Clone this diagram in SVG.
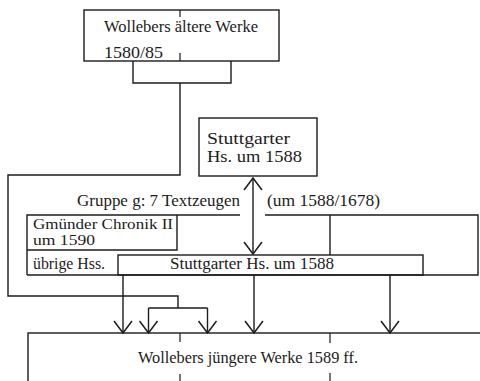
<svg xmlns="http://www.w3.org/2000/svg" width="480" height="381" viewBox="0 0 480 381">
<style>
.b{fill:none;stroke:#1c1c1c;stroke-width:1.4}
.c{fill:none;stroke:#1c1c1c;stroke-width:1.4}
.t{font-family:"Liberation Serif","Times New Roman",serif;font-size:16px;fill:#1c1c1c}
.s{font-size:14px}
.k{fill:none;stroke:#1c1c1c;stroke-width:1.2}
</style>
<defs>
<marker id="ah" markerUnits="userSpaceOnUse" markerWidth="16" markerHeight="22" viewBox="-14 -11 16 22" refX="0" refY="0" orient="auto-start-reverse" overflow="visible">
<path d="M-12,-9 L0,0 L-12,9" fill="none" stroke="#1c1c1c" stroke-width="1.5"/>
</marker>
</defs>
<rect width="480" height="381" fill="#ffffff"/>
<g id="n-aeltere">
<rect class="b" x="84" y="10" width="195" height="51"/>
<path class="k" d="M180,10 V17 M180,53 V61"/>
<text class="t" x="104" y="32" textLength="154" lengthAdjust="spacingAndGlyphs">Wollebers ältere Werke</text>
<text class="t" x="104" y="58" textLength="59" lengthAdjust="spacingAndGlyphs">1580/85</text>
</g>
<g id="n-stuttgarter-top">
<rect class="b" x="199" y="118" width="118" height="58"/>
<text class="t" x="207" y="144" textLength="83" lengthAdjust="spacingAndGlyphs">Stuttgarter</text>
<text class="t" x="207" y="162" textLength="95" lengthAdjust="spacingAndGlyphs">Hs. um 1588</text>
</g>
<g id="n-gruppe">
<path class="b" d="M27,275 V215 H240 M265,215 H478 V275 H27"/>
<text class="t" x="77" y="206" textLength="163" lengthAdjust="spacingAndGlyphs">Gruppe g: 7 Textzeugen</text>
<text class="t" x="267" y="206" textLength="113" lengthAdjust="spacingAndGlyphs">(um 1588/1678)</text>
</g>
<g id="n-gmuender">
<path class="b" d="M27,250 H177 V215"/>
<text class="t s" x="33" y="229" textLength="140" lengthAdjust="spacingAndGlyphs">Gmünder Chronik II</text>
<text class="t s" x="33" y="245" textLength="62" lengthAdjust="spacingAndGlyphs">um 1590</text>
</g>
<g id="n-uebrige">
<text class="t" x="33" y="269" textLength="72" lengthAdjust="spacingAndGlyphs">übrige Hss.</text>
</g>
<g id="n-stuttgarter-row">
<rect class="b" x="118" y="255" width="305" height="20"/>
<text class="t" x="170" y="269" textLength="164" lengthAdjust="spacingAndGlyphs">Stuttgarter Hs. um 1588</text>
</g>
<g id="n-juengere">
<rect class="b" x="28" y="333" width="470" height="70"/>
<path class="k" d="M180,333 V342 M180,374 V381 M330,333 V343 M330,373 V381"/>
<text class="t" x="138" y="363" textLength="220" lengthAdjust="spacingAndGlyphs">Wollebers jüngere Werke 1589 ff.</text>
</g>
<g id="connectors">
<path class="c" d="M133,61 V83 H231 V61"/>
<path class="c" d="M180,83 V175 H8 V296 H178 V308"/>
<path class="c" d="M148.5,308 H207.5"/>
<path class="c" d="M148.5,308 V333" marker-end="url(#ah)"/>
<path class="c" d="M207.5,308 V333" marker-end="url(#ah)"/>
<path class="c" d="M123,275 V333" marker-end="url(#ah)"/>
<path class="c" d="M254,275 V333" marker-end="url(#ah)"/>
<path class="c" d="M390,275 V333" marker-end="url(#ah)"/>
<path class="c" d="M253,178 V254" marker-start="url(#ah)" marker-end="url(#ah)"/>
<path class="c" d="M330,215 V255"/>
</g>
</svg>
